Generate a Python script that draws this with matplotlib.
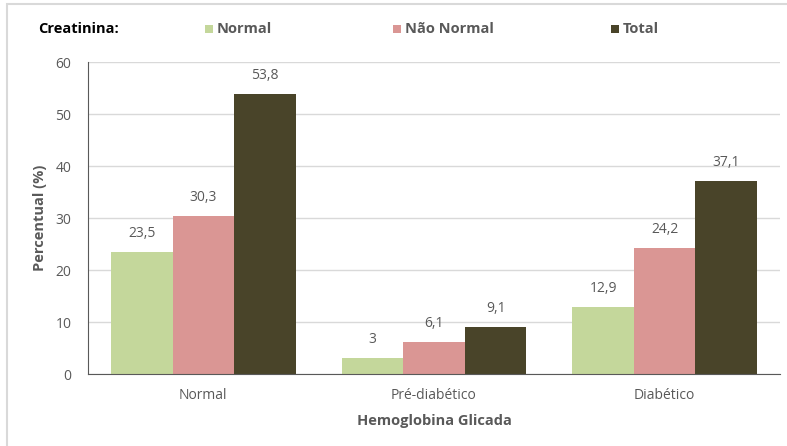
import matplotlib
matplotlib.use("Agg")
import matplotlib.pyplot as plt
import numpy as np
from matplotlib.patches import Rectangle

categories = ["Normal", "Pré-diabético", "Diabético"]
series_names = ["Normal", "Não Normal", "Total"]
normal = [23.5, 3, 12.9]
nao_normal = [30.3, 6.1, 24.2]
total = [53.8, 9.1, 37.1]
labels_normal = ["23,5", "3", "12,9"]
labels_nao = ["30,3", "6,1", "24,2"]
labels_total = ["53,8", "9,1", "37,1"]
yticks = [0, 10, 20, 30, 40, 50, 60]

colors = ["#C4D79B", "#DA9694", "#494429"]
txt = "#595959"
plt.rcParams['font.family'] = ['Open Sans', 'DejaVu Sans']

W, H = 787, 446
fig = plt.figure(figsize=(W/100, H/100), dpi=100)
ax = fig.add_axes([88/W, 1-374/H, (780-88)/W, (374-62)/H])

x = np.arange(len(categories))
bw = 0.267
series = [normal, nao_normal, total]
labs = [labels_normal, labels_nao, labels_total]
for i, (vals, lb) in enumerate(zip(series, labs)):
    pos = x + (i-1)*bw
    bars = ax.bar(pos, vals, width=bw, color=colors[i], zorder=2)
    for b, v, l in zip(bars, vals, lb):
        ax.annotate(l, (b.get_x()+b.get_width()/2, v), xytext=(0, 8),
                    textcoords="offset points", ha="center", va="bottom",
                    fontsize=10, color=txt)

ax.set_xlim(-0.5, 2.5)
ax.set_ylim(0, 60)
ax.set_yticks(yticks)
ax.set_yticklabels([str(t) for t in yticks])
ax.set_xticks(x)
ax.set_xticklabels(categories)
ax.tick_params(axis='both', length=0, colors=txt, labelsize=10)
ax.tick_params(axis='x', pad=10)
ax.tick_params(axis='y', pad=12)
ax.grid(axis='y', color="#D9D9D9", linewidth=1, zorder=0)
for s in ["top", "right"]:
    ax.spines[s].set_visible(False)
ax.spines["left"].set_color("#595959")
ax.spines["bottom"].set_color("#595959")
ax.set_xlabel("Hemoglobina Glicada", fontsize=10.5, fontweight="bold", color=txt, labelpad=8)
ax.set_ylabel("Percentual (%)", fontsize=10.5, fontweight="bold", color=txt, labelpad=6)

# outer border
fig.patches.append(Rectangle((7/W, -0.05), 1.1, 1-4/H+0.05, transform=fig.transFigure,
                             fill=False, edgecolor="#D9D9D9", linewidth=1.5))

# legend
fig.text(38/W, 1-29/H, "Creatinina:", fontsize=10.5, fontweight="bold", color="black", va="center")
leg_x = [205, 393, 611]
for lx, name, c in zip(leg_x, series_names, colors):
    fig.patches.append(Rectangle((lx/W, 1-33/H), 8/W, 8/H, transform=fig.transFigure,
                                 facecolor=c, edgecolor="none"))
    fig.text((lx+12)/W, 1-29/H, name, fontsize=10.5, fontweight="bold", color=txt, va="center")

fig.savefig("out.png", dpi=100)
